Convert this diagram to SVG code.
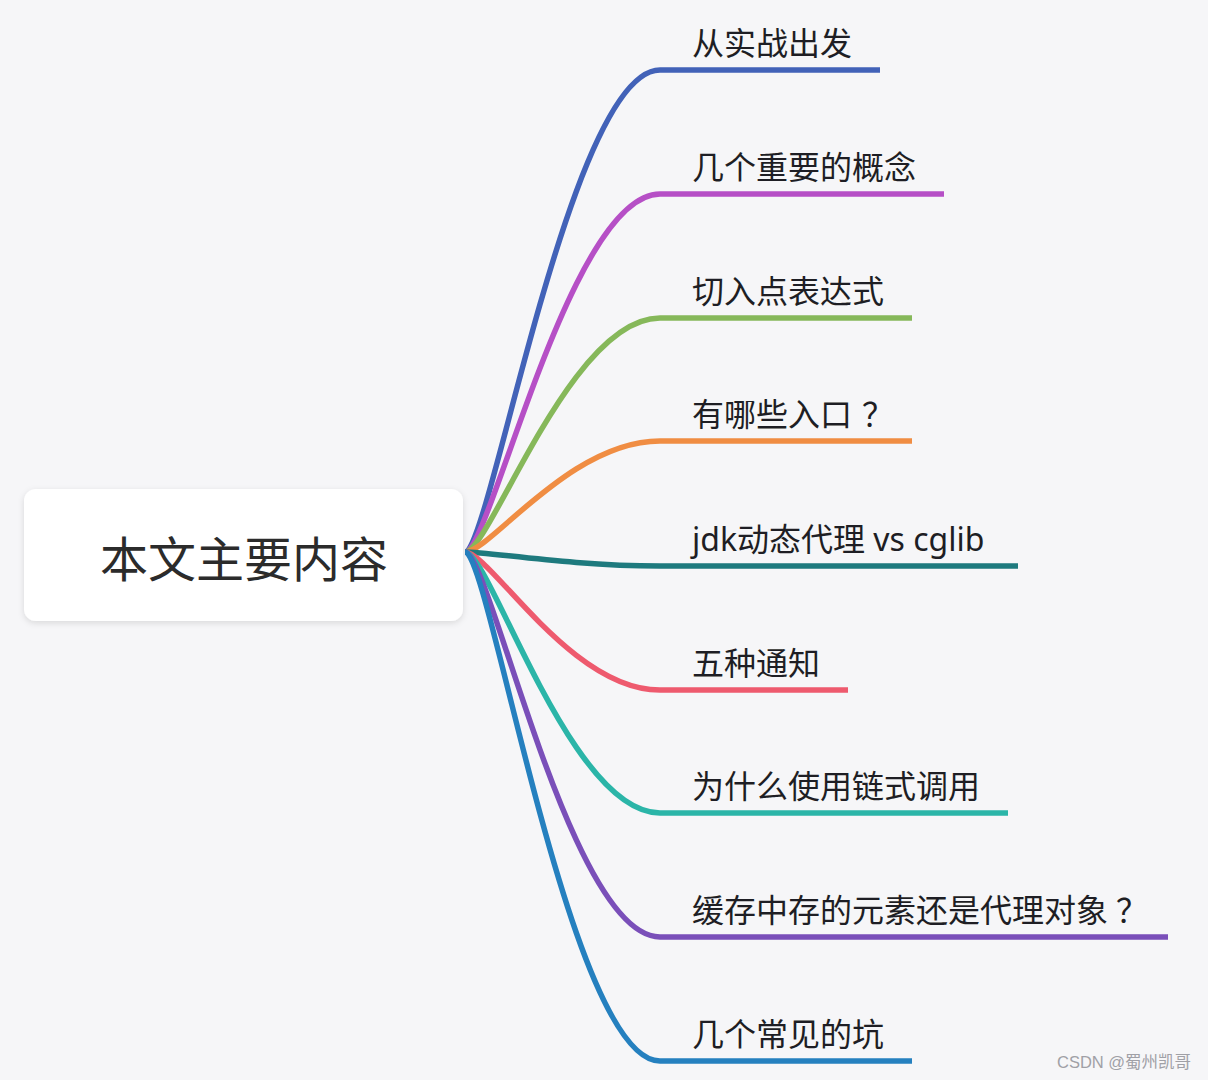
<svg xmlns="http://www.w3.org/2000/svg" width="1208" height="1080" viewBox="0 0 1208 1080">
<defs>
<filter id="shadow" x="-10%" y="-20%" width="120%" height="150%">
<feDropShadow dx="0" dy="2" stdDeviation="3" flood-color="#000" flood-opacity="0.12"/>
</filter>
<style>
.bg{fill:#f6f6f8}
.root{fill:#ffffff}
.rootText{font-family:"Noto Sans CJK SC","Noto Sans",sans-serif;font-size:48px;fill:#2b2b2b;text-anchor:middle}
.label{font-family:"Noto Sans CJK SC","Noto Sans",sans-serif;font-size:32px;fill:#1e1e24}
.latin{font-family:"Noto Sans","Noto Sans CJK SC",sans-serif}
.edge{fill:none;stroke-width:5.5;stroke-linecap:butt}
.wm{font-family:"Liberation Sans","Noto Sans CJK SC",sans-serif;font-size:16.5px;fill:#a0a0a6}
</style>
</defs>
<rect class="bg" x="0" y="0" width="1208" height="1080"/>
<g id="connectors">
<path class="edge" stroke="#4262b8" d="M465,552 C490,552 570,70 660,70 H880"/>
<path class="edge" stroke="#b64fc6" d="M465,552 C490,552 570,194 660,194 H944"/>
<path class="edge" stroke="#86b85a" d="M465,552 C490,552 570,318 660,318 H912"/>
<path class="edge" stroke="#f08d43" d="M465,552 C490,552 570,441 660,441 H912"/>
<path class="edge" stroke="#1e7a7e" d="M465,552 C490,552 570,566 660,566 H1018"/>
<path class="edge" stroke="#ee5a6e" d="M465,552 C490,552 570,690 660,690 H848"/>
<path class="edge" stroke="#2bb5a8" d="M465,552 C490,552 570,813 660,813 H1008"/>
<path class="edge" stroke="#7a4fb9" d="M465,552 C490,552 570,937 660,937 H1168"/>
<path class="edge" stroke="#2580bf" d="M465,552 C490,552 570,1061 660,1061 H912"/>
</g>
<g id="root">
<rect class="root" x="24" y="489" width="439" height="132" rx="12" ry="12" filter="url(#shadow)"/>
<text class="rootText" x="244" y="577">本文主要内容</text>
</g>
<g id="n1"><text class="label" x="692" y="55">从实战出发</text></g>
<g id="n2"><text class="label" x="692" y="179">几个重要的概念</text></g>
<g id="n3"><text class="label" x="692" y="303">切入点表达式</text></g>
<g id="n4"><text class="label" x="692" y="426">有哪些入口<tspan dx="10">？</tspan></text></g>
<g id="n5"><text class="label latin" x="692" y="551">jdk动态代理 vs cglib</text></g>
<g id="n6"><text class="label" x="692" y="675">五种通知</text></g>
<g id="n7"><text class="label" x="692" y="798">为什么使用链式调用</text></g>
<g id="n8"><text class="label" x="692" y="922">缓存中存的元素还是代理对象<tspan dx="8">？</tspan></text></g>
<g id="n9"><text class="label" x="692" y="1046">几个常见的坑</text></g>
<text class="wm" x="1057" y="1068">CSDN @蜀州凯哥</text>
</svg>
